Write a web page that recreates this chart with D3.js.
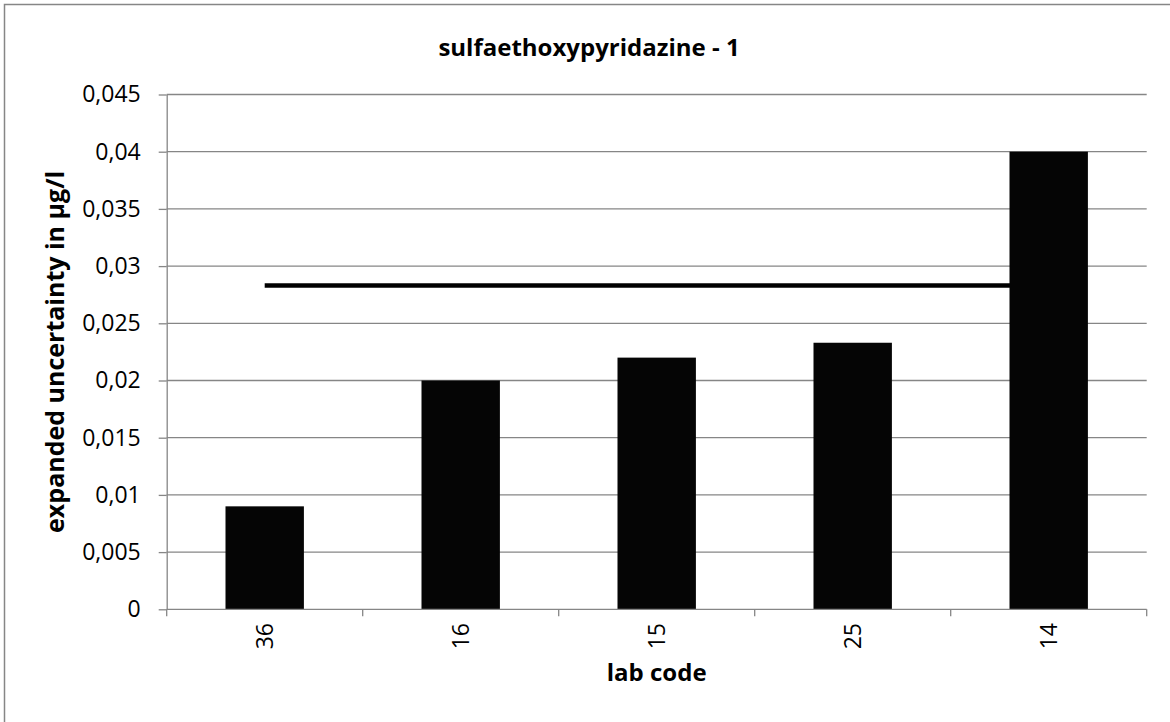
<!DOCTYPE html>
<html>
<head>
<meta charset="utf-8">
<script src="https://cdn.jsdelivr.net/npm/d3@7"></script>
<style>
  html, body { margin: 0; padding: 0; background: #fff; }
  svg { display: block; }
</style>
</head>
<body>
<svg id="chart" width="1170" height="722"></svg>
<script>
const categories = ["36", "16", "15", "25", "14"];
const uncertainty = [0.009, 0.02, 0.022, 0.0233, 0.04];
const meanValue = [0.0283, 0.0283, 0.0283, 0.0283, 0.0283];
const yTicks = [0, 0.005, 0.01, 0.015, 0.02, 0.025, 0.03, 0.035, 0.04, 0.045];
const yTickLabels = ["0", "0,005", "0,01", "0,015", "0,02", "0,025", "0,03", "0,035", "0,04", "0,045"];
const titleText = "sulfaethoxypyridazine - 1";
const xTitle = "lab code";
const yTitle = "expanded uncertainty in µg/l";

(function () {
const svg = d3.select("#chart");
const font = "'Open Sans', 'Liberation Sans', sans-serif";
const grey = "#868686";

const pLeft = 166.7, pRight = 1146.7, pTop = 94.5, pBottom = 609.3;

// chart border
svg.append("rect")
  .attr("x", 4.5).attr("y", 4.5)
  .attr("width", 1200).attr("height", 740)
  .attr("fill", "#fff").attr("stroke", grey).attr("stroke-width", 1.5);

const x = d3.scaleBand().domain(categories).range([pLeft, pRight]).paddingInner(0).paddingOuter(0);
const y = d3.scaleLinear().domain([0, 0.045]).range([pBottom, pTop]);

// gridlines
svg.append("g").selectAll("line").data(yTicks.filter(d => d > 0)).join("line")
  .attr("x1", pLeft).attr("x2", pRight)
  .attr("y1", d => y(d)).attr("y2", d => y(d))
  .attr("stroke", grey).attr("stroke-width", 1.3);

// y axis
const yAxis = d3.axisLeft(y).tickValues(yTicks)
  .tickFormat((d, i) => yTickLabels[i]).tickSizeInner(8).tickSizeOuter(0).tickPadding(18);
const gy = svg.append("g").attr("transform", `translate(${pLeft},0)`).call(yAxis);
gy.select(".domain").attr("stroke", grey).attr("stroke-width", 1.3);
gy.selectAll(".tick line").attr("stroke", grey).attr("stroke-width", 1.3);
gy.selectAll(".tick text").attr("font-family", font).attr("font-size", 23).attr("fill", "#000");

// mean line (behind bars)
const line = d3.line().x((d, i) => x(categories[i]) + x.bandwidth() / 2).y(d => y(d));
svg.append("path").datum(meanValue)
  .attr("d", line).attr("fill", "none")
  .attr("stroke", "#000").attr("stroke-width", 4.5);

// bars
const bw = x.bandwidth() * 0.4;
svg.append("g").selectAll("rect").data(uncertainty).join("rect")
  .attr("x", (d, i) => x(categories[i]) + (x.bandwidth() - bw) / 2)
  .attr("width", bw)
  .attr("y", d => y(d))
  .attr("height", d => y(0) - y(d))
  .attr("fill", "#050505");

// x axis
const xAxisLine = svg.append("g");
xAxisLine.append("line").attr("x1", pLeft).attr("x2", pRight)
  .attr("y1", pBottom).attr("y2", pBottom).attr("stroke", grey).attr("stroke-width", 1.3);
const boundaries = categories.map(c => x(c)).concat([pRight]);
xAxisLine.selectAll(".xt").data(boundaries).join("line")
  .attr("class", "xt")
  .attr("x1", d => d).attr("x2", d => d)
  .attr("y1", pBottom).attr("y2", pBottom + 7)
  .attr("stroke", grey).attr("stroke-width", 1.3);

svg.append("g").selectAll("text").data(categories).join("text")
  .attr("transform", d => `translate(${x(d) + x.bandwidth() / 2},${623}) rotate(-90)`)
  .attr("text-anchor", "end").attr("dy", "0.35em")
  .attr("font-family", font).attr("font-size", 23).attr("fill", "#000")
  .text(d => d);

// titles
svg.append("text").attr("x", 589).attr("y", 56)
  .attr("text-anchor", "middle").attr("font-family", font)
  .attr("font-weight", "bold").attr("font-size", 24).attr("fill", "#000")
  .text(titleText);

svg.append("text").attr("x", (pLeft + pRight) / 2).attr("y", 681)
  .attr("text-anchor", "middle").attr("font-family", font)
  .attr("font-weight", "bold").attr("font-size", 24).attr("fill", "#000")
  .text(xTitle);

svg.append("text")
  .attr("transform", `translate(64,${(pTop + pBottom) / 2}) rotate(-90)`)
  .attr("text-anchor", "middle").attr("font-family", font)
  .attr("font-weight", "bold").attr("font-size", 25).attr("fill", "#000")
  .text(yTitle);
})();
</script>
</body>
</html>
